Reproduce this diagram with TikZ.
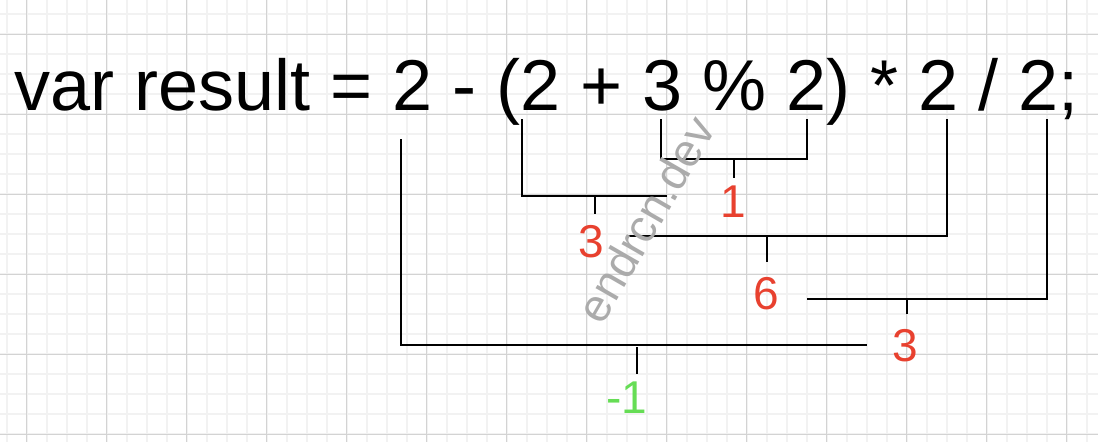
\documentclass[tikz,border=0pt]{standalone}
\usepackage{fontspec}
\setmainfont{Liberation Sans}
\usetikzlibrary{positioning}

\definecolor{gridminor}{HTML}{F2F2F2}
\definecolor{gridmajor}{HTML}{D3D3D3}
\definecolor{resred}{HTML}{E8412F}
\definecolor{resgreen}{HTML}{66DD55}
\definecolor{markgray}{HTML}{ABABAB}

\begin{document}
\begin{tikzpicture}[
  x=1pt, y=-1pt,
  minor/.style={draw=gridminor, line width=1.6pt},
  major/.style={draw=gridmajor, line width=1pt},
  link/.style={draw=black, line width=2pt},
  res/.style={inner sep=0pt, anchor=base, text=resred, font=\fontsize{46}{50}\selectfont}
]
  \useasboundingbox (0,0) rectangle (1098,442);
  \fill[white] (0,0) rectangle (1098,442);

  % Background grid
  \begin{scope}
    \clip (0,0) rectangle (1098,442);
    \foreach \k in {0,...,54} \draw[minor] (6.7+20*\k,0) -- (6.7+20*\k,442);
    \foreach \k in {0,...,21} \draw[minor] (0,14+20*\k) -- (1098,14+20*\k);
    \foreach \k in {0,...,13} \draw[major] (26.7+80*\k,0) -- (26.7+80*\k,442);
    \foreach \k in {0,...,5} \draw[major] (0,34+80*\k) -- (1098,34+80*\k);
  \end{scope}

  % The expression
  \node[anchor=base west, inner sep=0pt, font=\fontsize{72}{80}\selectfont] (expr) at (14,110)
    {var result = 2 - (2 + 3 \% 2) * 2 / 2;};

  % Taps under the operands
  \coordinate (t2a) at (401,139);
  \coordinate (tpar) at (521.7,119);
  \coordinate (t3) at (661,119);
  \coordinate (t2b) at (807,119);
  \coordinate (t2c) at (947,119);
  \coordinate (t2d) at (1047,119);

  % Partial results
  \node[res] (r1) at (733.7,217.5) {1};
  \node[res] (r2) at (591.5,257) {3};
  \node[res] (r3) at (766,309) {6};
  \node[res] (r4) at (905.7,361.5) {3};
  \node[res, text=resgreen] (r5) at (626.5,413) {-1};

  % Free ends of the brackets
  \coordinate (lB) at (666.7,196);
  \coordinate (lD) at (627,236);
  \coordinate (lE) at (807,299);
  \coordinate (lA) at (867,345);

  % Brackets
  \draw[link] (t3) -- ++(0,40) -| (t2b);
  \foreach \from/\to in {tpar/lB, t2a/lA}
    \draw[link] (\from) |- (\to);
  \foreach \from/\to in {lD/t2c, lE/t2d}
    \draw[link] (\from) -| (\to);

  % Ticks down to the results
  \coordinate (k1) at (734,159);
  \coordinate (k2) at (595,196);
  \coordinate (k3) at (767,236);
  \coordinate (k4) at (907,299);
  \coordinate (k5) at (637,347);
  \foreach \k/\len in {k1/19, k2/18, k3/26, k4/15, k5/27}
    \draw[link] (\k) -- ++(0,\len);

  % Watermark
  \node[rotate=60, inner sep=0pt, text=markgray, font=\fontsize{46}{50}\selectfont] (wm) at (645.6,219.3) {endrcn.dev};
\end{tikzpicture}
\end{document}
